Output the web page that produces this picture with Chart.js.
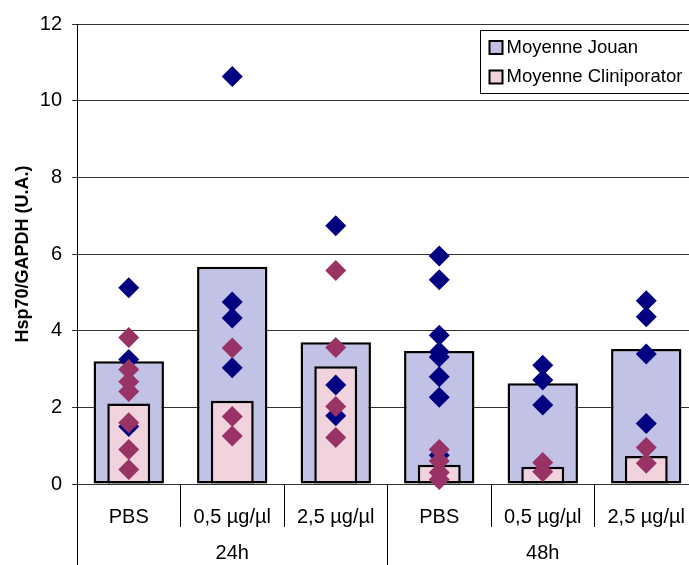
<!DOCTYPE html>
<html>
<head>
<meta charset="utf-8">
<script src="https://cdn.jsdelivr.net/npm/chart.js@4.4.1/dist/chart.umd.min.js"></script>
<style>
  html, body { margin: 0; padding: 0; background: #fff; overflow: hidden; }
</style>
</head>
<body>
<canvas id="hsp" width="698" height="565"></canvas>
<script>
// conditions et temps
var conditions = ['PBS', '0,5 µg/µl', '2,5 µg/µl'];
var temps = ['24h', '48h'];
var categories = ['PBS 24h', '0,5 µg/µl 24h', '2,5 µg/µl 24h', 'PBS 48h', '0,5 µg/µl 48h', '2,5 µg/µl 48h'];

// moyennes
var moyenneJouan = [3.2, 5.67, 3.7, 3.47, 2.63, 3.52];
var moyenneClini = [2.1, 2.17, 3.07, 0.5, 0.45, 0.73];

// valeurs individuelles, une liste par categorie
var pointsJouan = [
    [5.12, 3.25, 1.5],
    [10.63, 4.75, 4.33, 3.03],
    [6.74, 2.58, 1.78],
    [5.95, 5.33, 3.88, 3.45, 3.31, 2.8, 2.26, 0.75],
    [3.1, 2.71, 2.06],
    [4.78, 4.36, 3.39, 1.58]
];
var pointsClini = [
    [3.82, 2.99, 2.67, 2.41, 1.6, 0.9, 0.38],
    [3.55, 1.76, 1.25],
    [5.57, 3.56, 2.02, 1.21],
    [0.9, 0.6, 0.3, 0.12],
    [0.56, 0.32],
    [0.95, 0.54]
];

var police = '"Liberation Sans", Arial, sans-serif';
var couleurJouan = '#c2c2e6';
var couleurClini = '#f1d3dd';

function to_points(listes){
    var out = [];
    for(let i = 0; i < listes.length; i++){
        listes[i].forEach(function(v){ out.push({x: categories[i], y: v}) });
    }
    return out;
}

const decor = {
    id: 'decor',
    afterDraw(chart){
        const ctx = chart.ctx;
        const x = chart.scales.x;
        const area = chart.chartArea;
        ctx.save();
        ctx.strokeStyle = '#000';
        ctx.lineWidth = 1;
        // lignes qui separent les groupes 24h / 48h
        const split = (x.getPixelForValue(2) + x.getPixelForValue(3)) / 2;
        [area.left, split].forEach(function(px){
            const p = Math.round(px - 0.5) + 0.5;
            ctx.beginPath();
            ctx.moveTo(p, area.bottom);
            ctx.lineTo(p, chart.height);
            ctx.stroke();
        });
        // etiquettes de groupe
        ctx.font = '20px ' + police;
        ctx.fillStyle = '#000';
        ctx.textAlign = 'center';
        ctx.textBaseline = 'middle';
        temps.forEach(function(t, g){
            const a = x.getPixelForValue(g * 3);
            const b = x.getPixelForValue(g * 3 + 2);
            ctx.fillText(t, (a + b) / 2, 553);
        });
        // legende
        const lx = Math.round(area.right - 218) + 0.5;
        const ly = Math.round(area.top + 6) + 0.5;
        ctx.fillStyle = '#fff';
        ctx.fillRect(lx, ly, 240, 63);
        ctx.strokeRect(lx, ly, 240, 63);
        const items = [chart.data.datasets[0], chart.data.datasets[1]];
        ctx.font = '18.5px ' + police;
        ctx.textAlign = 'left';
        items.forEach(function(ds, k){
            const cy = ly + 17 + k * 29.5;
            ctx.fillStyle = ds.backgroundColor;
            ctx.fillRect(lx + 9, cy - 6.5, 13, 13);
            ctx.lineWidth = 2;
            ctx.strokeRect(lx + 9, cy - 6.5, 13, 13);
            ctx.fillStyle = '#000';
            ctx.fillText(ds.label, lx + 26, cy);
        });
        ctx.restore();
    }
};

const ctx = document.getElementById('hsp').getContext('2d');
const myChart = new Chart(ctx, {
    data: {
        labels: categories,
        datasets: [{
            type: 'bar',
            label: 'Moyenne Jouan',
            data: moyenneJouan,
            backgroundColor: couleurJouan,
            borderColor: '#000',
            borderWidth: 2.5,
            borderSkipped: false,
            grouped: false,
            barPercentage: 0.68,
            categoryPercentage: 1,
            order: 3
        }, {
            type: 'bar',
            label: 'Moyenne Cliniporator',
            data: moyenneClini,
            backgroundColor: couleurClini,
            borderColor: '#000',
            borderWidth: 2.5,
            borderSkipped: false,
            grouped: false,
            barPercentage: 0.415,
            categoryPercentage: 1,
            order: 2
        }, {
            type: 'line',
            label: 'Jouan',
            data: to_points(pointsJouan),
            showLine: false,
            pointStyle: 'rectRot',
            pointRadius: 10.5,
            pointBorderWidth: 0,
            pointBackgroundColor: '#000080',
            pointBorderColor: '#000080',
            clip: false,
            order: 1
        }, {
            type: 'line',
            label: 'Cliniporator',
            data: to_points(pointsClini),
            showLine: false,
            pointStyle: 'rectRot',
            pointRadius: 10.5,
            pointBorderWidth: 0,
            pointBackgroundColor: '#993366',
            pointBorderColor: '#993366',
            clip: false,
            order: 0
        }]
    },
    options: {
        responsive: false,
        animation: false,
        // le canvas depasse la fenetre a droite, comme le graphique d'origine
        layout: { autoPadding: false, padding: { top: 24, right: 0, left: 0, bottom: 0 } },
        plugins: {
            legend: { display: false },
            tooltip: { enabled: false }
        },
        scales: {
            x: {
                offset: true,
                grid: { offset: true, drawOnChartArea: false, tickLength: 43, color: '#000' },
                border: { color: '#333' },
                ticks: {
                    padding: -22,
                    color: '#000',
                    maxRotation: 0,
                    autoSkip: false,
                    font: { family: police, size: 20 },
                    callback: function(v, i){ return conditions[i % 3] }
                },
                afterFit: function(s){
                    s.height = 81;
                    s.paddingLeft = 0;
                    s.paddingRight = 0;
                }
            },
            y: {
                min: 0,
                max: 12,
                ticks: { stepSize: 2, padding: 10, color: '#000', font: { family: police, size: 20 } },
                grid: { color: '#333', tickLength: 5 },
                border: { color: '#000' },
                title: {
                    display: true,
                    text: 'Hsp70/GAPDH (U.A.)',
                    color: '#000',
                    font: { family: police, size: 18, weight: 'bold' },
                    padding: { top: 12, bottom: 0 }
                },
                afterFit: function(s){ s.width = 77 }
            }
        }
    },
    plugins: [decor]
});
</script>
</body>
</html>
